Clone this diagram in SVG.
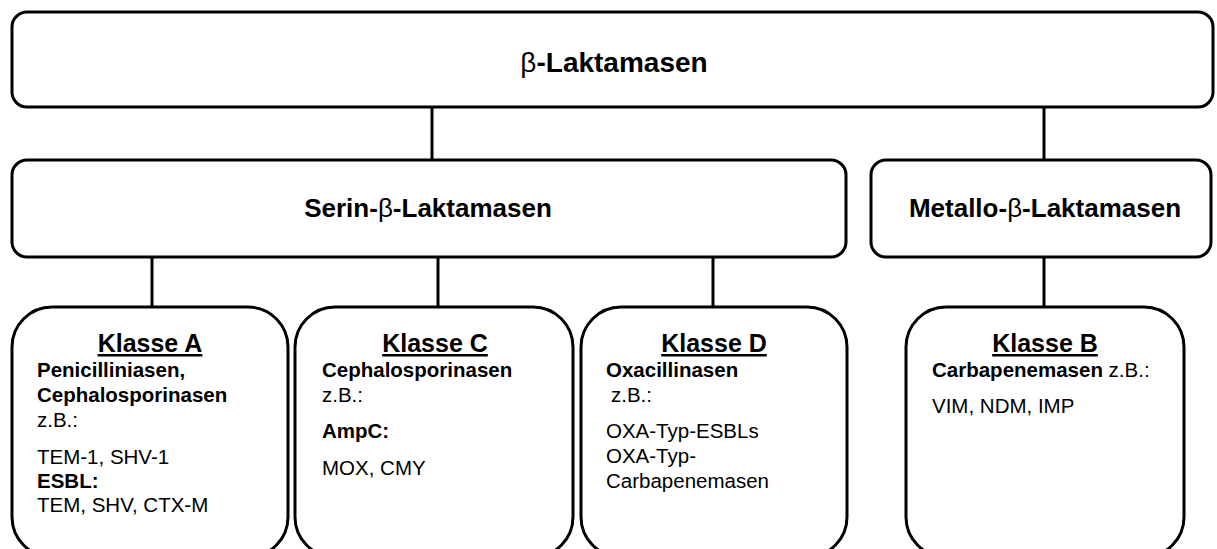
<svg xmlns="http://www.w3.org/2000/svg" width="1217" height="549" viewBox="0 0 1217 549">
<style>
.box{fill:#fff;stroke:#000;stroke-width:3}
.conn{stroke:#000;stroke-width:3;fill:none}
.h{font-family:"Liberation Sans",Arial,sans-serif;font-weight:bold;font-size:26px;fill:#000;text-anchor:middle}
.beta{font-weight:normal}
.t{font-family:"Liberation Sans",Arial,sans-serif;font-weight:bold;font-size:25px;fill:#000;text-anchor:middle;text-decoration:underline}
.b{font-family:"Liberation Sans",Arial,sans-serif;font-weight:bold;font-size:20.5px;fill:#000}
.r{font-family:"Liberation Sans",Arial,sans-serif;font-size:20.5px;fill:#000}
</style>
<rect width="1217" height="549" fill="#fff"/>
<g id="connectors">
<line class="conn" x1="432" y1="107" x2="432" y2="160"/>
<line class="conn" x1="1044" y1="107" x2="1044" y2="160"/>
<line class="conn" x1="152" y1="257" x2="152" y2="307"/>
<line class="conn" x1="438" y1="257" x2="438" y2="307"/>
<line class="conn" x1="713" y1="257" x2="713" y2="307"/>
<line class="conn" x1="1044" y1="257" x2="1044" y2="307"/>
</g>
<g id="beta-laktamasen">
<rect class="box" x="12" y="12" width="1201" height="95" rx="15"/>
<text class="h" x="614" y="72" style="font-size:28px"><tspan class="beta">β</tspan>-Laktamasen</text>
</g>
<g id="serin">
<rect class="box" x="12" y="160" width="834" height="97" rx="15"/>
<text class="h" x="428" y="217">Serin-<tspan class="beta">β</tspan>-Laktamasen</text>
</g>
<g id="metallo">
<rect class="box" x="871" y="160" width="340" height="97" rx="15"/>
<text class="h" x="1045" y="217">Metallo-<tspan class="beta">β</tspan>-Laktamasen</text>
</g>
<g id="klasse-a">
<rect class="box" x="12" y="307" width="276" height="250" rx="40"/>
<text class="t" x="150" y="352">Klasse A</text>
<text class="b" x="37" y="377">Penicilliniasen,</text>
<text class="b" x="37" y="402">Cephalosporinasen</text>
<text class="r" x="37" y="427">z.B.:</text>
<text class="r" x="37" y="464">TEM-1, SHV-1</text>
<text class="b" x="37" y="488">ESBL:</text>
<text class="r" x="37" y="512">TEM, SHV, CTX-M</text>
</g>
<g id="klasse-c">
<rect class="box" x="295" y="307" width="278" height="250" rx="40"/>
<text class="t" x="435" y="352">Klasse C</text>
<text class="b" x="322" y="377">Cephalosporinasen</text>
<text class="r" x="322" y="402">z.B.:</text>
<text class="b" x="322" y="438">AmpC:</text>
<text class="r" x="322" y="475">MOX, CMY</text>
</g>
<g id="klasse-d">
<rect class="box" x="581" y="307" width="266" height="250" rx="40"/>
<text class="t" x="714" y="352">Klasse D</text>
<text class="b" x="606" y="377">Oxacillinasen</text>
<text class="r" x="611" y="402">z.B.:</text>
<text class="r" x="606" y="438">OXA-Typ-ESBLs</text>
<text class="r" x="606" y="463">OXA-Typ-</text>
<text class="r" x="606" y="488">Carbapenemasen</text>
</g>
<g id="klasse-b">
<rect class="box" x="906" y="307" width="278" height="250" rx="40"/>
<text class="t" x="1045" y="352">Klasse B</text>
<text x="932" y="377"><tspan class="b">Carbapenemasen</tspan><tspan class="r"> z.B.:</tspan></text>
<text class="r" x="932" y="413">VIM, NDM, IMP</text>
</g>
</svg>
